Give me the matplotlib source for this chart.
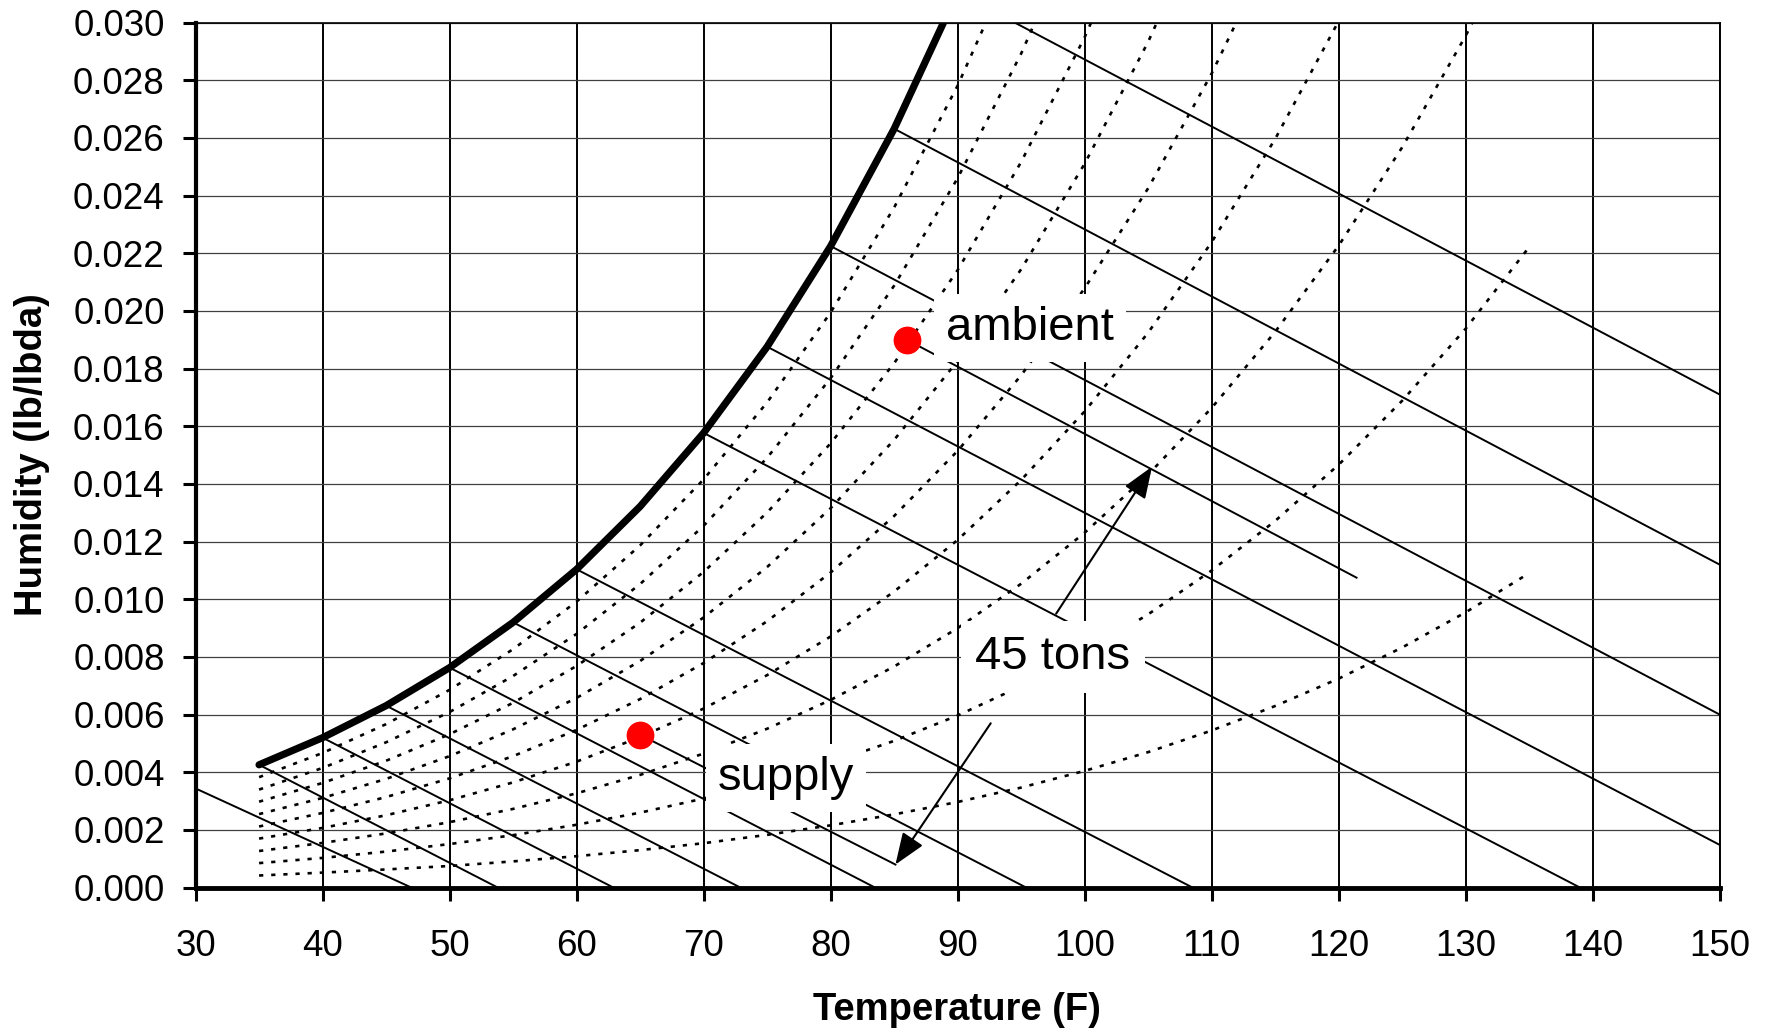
import matplotlib
matplotlib.use('Agg')
from matplotlib import pyplot as plt
from matplotlib.ticker import FormatStrFormatter

plt.rcParams['font.family'] = ['Liberation Sans', 'DejaVu Sans']

# dry bulb temperatures (F) for the humidity curves
temps = [35, 40, 45, 50, 55, 60, 65, 70, 75, 80, 85, 90, 95, 100,
         105, 110, 115, 120, 125, 130, 135]

# saturation curve (100 %)
sat = [0.00426, 0.00520, 0.00631, 0.00763, 0.00920, 0.01104, 0.01322,
       0.01577, 0.01876, 0.02225, 0.02632, 0.03106]

# relative humidity curves 10 % .. 90 %
rh10 = [0.00042, 0.00052, 0.00063, 0.00075, 0.00091, 0.00109, 0.00130,
        0.00154, 0.00183, 0.00216, 0.00254, 0.00297, 0.00347, 0.00405,
        0.00470, 0.00545, 0.00630, 0.00725, 0.00833, 0.00955, 0.01091]
rh20 = [0.00085, 0.00103, 0.00125, 0.00151, 0.00182, 0.00218, 0.00260,
        0.00309, 0.00366, 0.00433, 0.00509, 0.00597, 0.00699, 0.00815,
        0.00948, 0.01100, 0.01272, 0.01467, 0.01689, 0.01939, 0.02222]
rh30 = [0.00127, 0.00155, 0.00188, 0.00227, 0.00273, 0.00327, 0.00391,
        0.00465, 0.00551, 0.00651, 0.00767, 0.00900, 0.01054, 0.01231,
        0.01433, 0.01664, 0.01928, 0.02227, 0.02568, 0.02955, 0.03393]
rh40 = [0.00170, 0.00207, 0.00251, 0.00303, 0.00365, 0.00437, 0.00522,
        0.00621, 0.00737, 0.00871, 0.01027, 0.01206, 0.01414, 0.01652,
        0.01925, 0.02239, 0.02597, 0.03006, 0.03472]
rh50 = [0.00212, 0.00259, 0.00314, 0.00379, 0.00456, 0.00547, 0.00654,
        0.00779, 0.00924, 0.01093, 0.01289, 0.01515, 0.01777, 0.02079,
        0.02426, 0.02824, 0.03280]
rh60 = [0.00255, 0.00311, 0.00377, 0.00456, 0.00549, 0.00658, 0.00786,
        0.00937, 0.01112, 0.01316, 0.01553, 0.01827, 0.02145, 0.02511,
        0.02934, 0.03420]
rh70 = [0.00298, 0.00363, 0.00440, 0.00532, 0.00641, 0.00769, 0.00919,
        0.01095, 0.01301, 0.01541, 0.01819, 0.02142, 0.02517, 0.02950,
        0.03450]
rh80 = [0.00340, 0.00415, 0.00504, 0.00609, 0.00734, 0.00880, 0.01053,
        0.01255, 0.01491, 0.01767, 0.02088, 0.02461, 0.02893, 0.03394]
rh90 = [0.00383, 0.00467, 0.00567, 0.00686, 0.00827, 0.00992, 0.01187,
        0.01416, 0.01683, 0.01995, 0.02359, 0.02782, 0.03274]

# wet bulb lines: start and end points
wb_t0 = [30, 35, 40, 45, 50, 55, 60, 70, 75, 80, 85, 94.5]
wb_w0 = [0.00344, 0.00426, 0.00520, 0.00631, 0.00763, 0.00920, 0.01104,
         0.01577, 0.01876, 0.02225, 0.02632, 0.030]
wb_t1 = [47.0, 53.8, 62.9, 72.9, 83.5, 95.4, 108.5, 139.0, 150, 150, 150, 150]
wb_w1 = [0, 0, 0, 0, 0, 0, 0, 0, 0.00148, 0.0060, 0.0112, 0.0171]

# ambient and supply states, with their wet bulb segments
point_t = [86, 65]
point_w = [0.019, 0.0053]
point_names = ['ambient', 'supply']
seg_t1 = [121.4, 85.1]
seg_w1 = [0.01075, 0.0008]

fig = plt.figure(figsize=(17.73, 10.29), dpi=100)
ax = fig.add_axes([0.1103, 0.1374, 0.8597, 0.8406])

# grid: black verticals, grey horizontals
ax.xaxis.grid(True, color='black', lw=1.4, zorder=0)
ax.yaxis.grid(True, color='#404040', lw=0.9, zorder=0)
ax.set_axisbelow(True)

# relative humidity curves
dots = (0, (1.6, 3.0))
for rh in [rh10, rh20, rh30, rh40, rh50, rh60, rh70, rh80, rh90]:
    ax.plot(temps[:len(rh)], rh, color='black', lw=1.9, linestyle=dots, zorder=2)

# wet bulb lines
for t0, w0, t1, w1 in zip(wb_t0, wb_w0, wb_t1, wb_w1):
    ax.plot([t0, t1], [w0, w1], color='black', lw=1.4, zorder=3)
for t0, w0, t1, w1 in zip(point_t, point_w, seg_t1, seg_w1):
    ax.plot([t0, t1], [w0, w1], color='black', lw=1.4, zorder=3)

# saturation curve
ax.plot(temps[:len(sat)], sat, color='black', lw=5.2, solid_capstyle='round',
        solid_joinstyle='round', zorder=4)

# the two states
ax.plot(point_t, point_w, 'o', color='red', ms=19, mec='red', zorder=6)

box = dict(boxstyle='square,pad=0.25', fc='white', ec='none')
ax.text(95.7, 0.0194, point_names[0], fontsize=34, ha='center', va='center', bbox=box, zorder=7)
ax.text(76.5, 0.0038, point_names[1], fontsize=34, ha='center', va='center', bbox=box, zorder=7)
ax.text(97.5, 0.0080, '45 tons', fontsize=34, ha='center', va='center',
        bbox=dict(boxstyle='square,pad=0.3', fc='white', ec='none'), zorder=7)

arrow = dict(arrowstyle='-|>,head_length=0.65,head_width=0.25', color='black',
             lw=1.5, shrinkA=0, shrinkB=0, mutation_scale=30)
ax.annotate('', xy=(105.3, 0.0146), xytext=(97.75, 0.0095), arrowprops=arrow, zorder=8)
ax.annotate('', xy=(85.1, 0.0008), xytext=(92.6, 0.0057), arrowprops=arrow, zorder=8)

ax.set_xlim(30, 150)
ax.set_ylim(0, 0.030)
ax.set_xticks(range(30, 151, 10))
ax.set_yticks([i * 0.002 for i in range(16)])
ax.yaxis.set_major_formatter(FormatStrFormatter('%.3f'))

ax.tick_params(axis='x', direction='out', length=9.5, width=2.2, pad=20, labelsize=26.5)
ax.tick_params(axis='y', direction='out', length=9.5, width=2.2, pad=12.7, labelsize=26.5)

ax.spines['left'].set_linewidth(3)
ax.spines['bottom'].set_linewidth(3.5)
ax.spines['top'].set_linewidth(1.2)
ax.spines['right'].set_linewidth(1.4)

fig.text(957 / 1773, 1 - 1020 / 1029, 'Temperature (F)', fontsize=27.5,
         fontweight='bold', ha='center', va='baseline')
fig.text(42 / 1773, 1 - 455 / 1029, 'Humidity (lb/lbda)', fontsize=27.5,
         fontweight='bold', rotation=90, rotation_mode='anchor',
         ha='center', va='baseline')

plt.savefig('out.png', dpi=100)
